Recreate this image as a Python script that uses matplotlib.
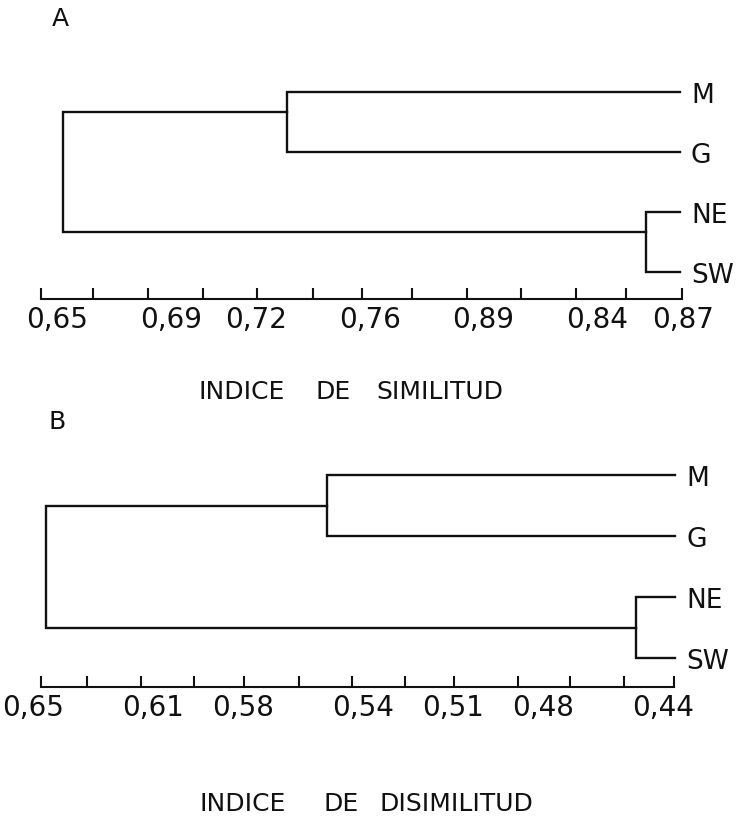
"""Two dendrograms of regional similarity / dissimilarity (panels A and B)."""
import matplotlib

matplotlib.use("Agg")
import matplotlib.pyplot as plt
from matplotlib.ticker import FixedLocator, NullFormatter

# ---- data -------------------------------------------------------------
leaves = ["M", "G", "NE", "SW"]

# panel A: similarity index
sim_pair_levels = [0.731, 0.857]      # M-G, NE-SW
sim_root_level = 0.652
sim_leaf_end = 0.869
sim_label_values = [0.65, 0.69, 0.72, 0.76, 0.80, 0.84, 0.87]
sim_labels = ["0,65", "0,69", "0,72", "0,76", "0,89", "0,84", "0,87"]
sim_tick_marks = [0.6444, 0.6627, 0.6820, 0.7013, 0.7203, 0.7400, 0.7572,
                  0.7748, 0.7942, 0.8132, 0.8325, 0.8501, 0.8698]

# panel B: dissimilarity index
dis_pair_levels = [0.552, 0.449]      # M-G, NE-SW
dis_root_level = 0.6457
dis_leaf_end = 0.436
dis_label_values = [0.65, 0.61, 0.58, 0.54, 0.51, 0.48, 0.44]
dis_labels = ["0,65", "0,61", "0,58", "0,54", "0,51", "0,48", "0,44"]
dis_tick_marks = [0.6473, 0.6320, 0.6140, 0.5963, 0.5797, 0.5613, 0.5437,
                  0.5260, 0.5097, 0.4883, 0.4710, 0.4530, 0.4363]

W, H = 743, 818
INK = "#111111"


def px_box(left, top, right, bottom):
    return [left / W, 1 - bottom / H, (right - left) / W, (bottom - top) / H]


def draw_dendrogram(ax, pair_levels, root_level, leaf_end, attach):
    lw = 1.7
    # each pair: bracket from the leaf tips to the merge level
    joins = []
    for k, level in enumerate(pair_levels):
        top, bot = 2 * k, 2 * k + 1
        ax.plot([leaf_end, level, level, leaf_end], [top, top, bot, bot],
                color=INK, lw=lw, solid_joinstyle="miter")
        joins.append((level, top + attach))
    (x1, y1), (x2, y2) = joins
    ax.plot([x1, root_level, root_level, x2], [y1, y1, y2, y2],
            color=INK, lw=lw, solid_joinstyle="miter")

    for i, name in enumerate(leaves):
        ax.annotate(name, (leaf_end, i), xytext=(8, -3),
                    textcoords="offset points", va="center", ha="left",
                    fontsize=19, color=INK, annotation_clip=False)


def style_axis(ax, xlim, ylim, label_values, labels, tick_marks):
    for side in ("left", "top", "right"):
        ax.spines[side].set_visible(False)
    ax.spines["bottom"].set_linewidth(1.5)
    ax.spines["bottom"].set_color(INK)
    ax.set_yticks([])
    ax.set_xticks(label_values)
    ax.set_xticklabels(labels)
    ax.xaxis.set_minor_locator(FixedLocator(tick_marks))
    ax.xaxis.set_minor_formatter(NullFormatter())
    ax.tick_params(axis="x", which="major", length=0, pad=5,
                   labelsize=20, labelcolor=INK)
    ax.tick_params(axis="x", which="minor", direction="in", length=8,
                   width=1.5, color=INK)
    # limits last, so the tick setup cannot widen them
    ax.set_xlim(*xlim)
    ax.set_ylim(*ylim)
    ax.spines["bottom"].set_bounds(tick_marks[0], tick_marks[-1])


def axis_title(words, lefts, y):
    for word, left in zip(words, lefts):
        fig.text(left / W, 1 - y / H, word, fontsize=18, color=INK,
                 ha="left", va="center")


fig = plt.figure(figsize=(W / 100, H / 100), dpi=100)

ax_a = fig.add_axes(px_box(20, 80, 700, 299))
style_axis(ax_a, (0.6370, 0.8761), (3.45, -0.2),
           sim_label_values, sim_labels, sim_tick_marks)
draw_dendrogram(ax_a, sim_pair_levels, sim_root_level, sim_leaf_end, 1 / 3)

ax_b = fig.add_axes(px_box(20, 460, 700, 687))
style_axis(ax_b, (0.65433, 0.42767), (3.475, -0.246),
           dis_label_values, dis_labels, dis_tick_marks)
draw_dendrogram(ax_b, dis_pair_levels, dis_root_level, dis_leaf_end, 1 / 2)

fig.text(60 / W, 1 - 19 / H, "A", fontsize=18, color=INK,
         ha="center", va="center")
fig.text(57 / W, 1 - 422 / H, "B", fontsize=18, color=INK,
         ha="center", va="center")
axis_title(["INDICE", "DE", "SIMILITUD"], [198, 316, 376], 392)
axis_title(["INDICE", "DE", "DISIMILITUD"], [200, 324, 380], 804)

fig.savefig("out.png", dpi=100, facecolor="white")
